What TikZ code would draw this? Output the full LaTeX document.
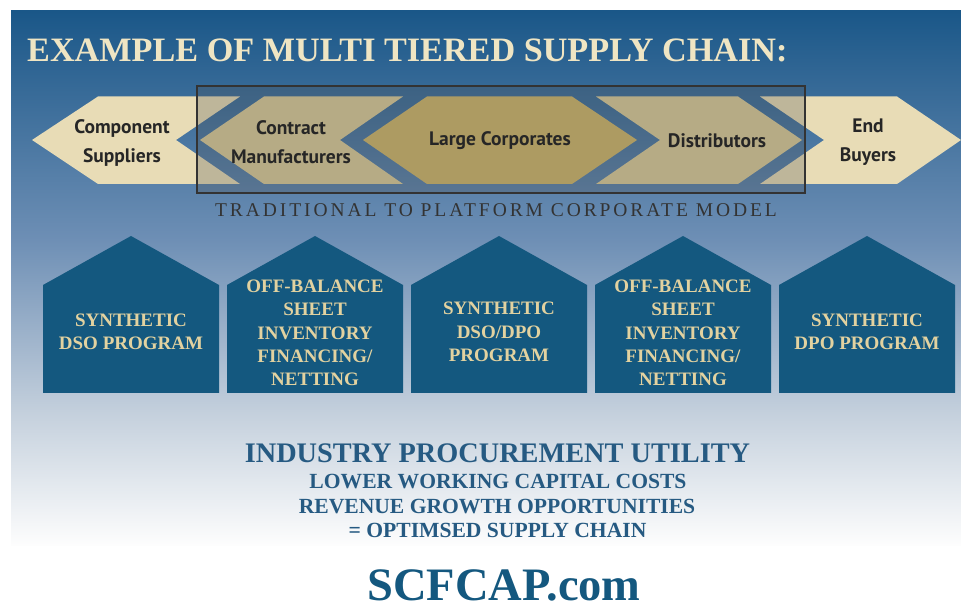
\documentclass[tikz,border=0pt]{standalone}
\usepackage{fontspec}
\setmainfont{Liberation Serif}
\newfontfamily\chevfont{PT Sans}
\newfontfamily\spacedserif[LetterSpace=15]{Liberation Serif}

\definecolor{bgtop}{HTML}{1A5788}
\definecolor{bgmid}{HTML}{6E8FB5}
\definecolor{bglow}{HTML}{C3CFDC}
\definecolor{bgend}{HTML}{FDFDFD}
\definecolor{cream}{HTML}{E8DCB6}
\definecolor{tan}{HTML}{DCCE9A}
\definecolor{gold}{HTML}{D0B76A}
\definecolor{titlecream}{HTML}{EFE5C3}
\definecolor{housefill}{HTML}{14587F}
\definecolor{housetext}{HTML}{E2D2A0}
\definecolor{navytext}{HTML}{265A82}
\definecolor{chevtext}{HTML}{262626}
\definecolor{boxgray}{HTML}{505050}

\begin{document}
\begin{tikzpicture}[x=1pt,y=-1pt,
  chevlabel/.style={font=\chevfont\bfseries\fontsize{19.5}{29}\selectfont,
    text=chevtext, align=center, inner sep=0pt},
  house/.style={fill=housefill, draw=none},
  houselabel/.style={font=\bfseries\fontsize{19}{23.3}\selectfont,
    text=housetext, align=center, inner sep=0pt},
  bottomline/.style={font=\bfseries\fontsize{21.6}{24}\selectfont,
    text=navytext, inner sep=0pt, anchor=base}]

  % page and background panel
  \useasboundingbox (0,0) rectangle (961,609);
  \fill[white] (0,0) rectangle (961,609);
  \shade[top color=bgtop, bottom color=bgmid] (11,11) rectangle (961,240.5);
  \shade[top color=bgmid, bottom color=bglow] (11,240) rectangle (961,410.5);
  \shade[top color=bglow, bottom color=bgend] (11,410) rectangle (961,545);

  % heading
  \node[anchor=base west, inner sep=0pt, text=titlecream,
        font=\bfseries\fontsize{34.2}{40}\selectfont] (title) at (27,62)
        {EXAMPLE OF MULTI TIERED SUPPLY CHAIN:};

  % supply chain tiers
  \fill[cream] (32,140) -- (98,96.5) -- (240,96.5) -- (176,140) -- (240,184) -- (98,184) -- cycle;
  \fill[tan]   (200,140) -- (264,96.5) -- (403,96.5) -- (340,140) -- (403,184) -- (264,184) -- cycle;
  \fill[gold]  (363,140) -- (427,96.5) -- (572,96.5) -- (637,140) -- (572,184) -- (427,184) -- cycle;
  \fill[tan]   (596,96.5) -- (738,96.5) -- (802,140) -- (738,184) -- (596,184) -- (660,140) -- cycle;
  \fill[cream] (760,96.5) -- (897,96.5) -- (961,140) -- (897,184) -- (760,184) -- (824,140) -- cycle;

  % platform frame over the middle tiers
  \draw[draw=black!80, line width=1.4pt, fill=boxgray, fill opacity=0.27]
    (197,86) rectangle (805,193);

  \node[chevlabel] (supp) at (122,142.5) {Component\\Suppliers};
  \node[chevlabel] (manu) at (291,142.5) {Contract\\Manufacturers};
  \node[chevlabel] (corp) at (500,141) {Large Corporates};
  \node[chevlabel] (dist) at (717,141) {Distributors};
  \node[chevlabel] (buy)  at (868,142.5) {End\\Buyers};

  \node[anchor=base, inner sep=0pt, text=black!80,
        font=\spacedserif\fontsize{19.5}{22}\selectfont] (model) at (496,217)
        {TRADITIONAL TO PLATFORM CORPORATE MODEL};

  % financing programmes
  \foreach \l in {43,227,411,595,779}{
    \fill[house] (\l,393) -- (\l,285) -- (\l+88,236) -- (\l+176,285) -- (\l+176,393) -- cycle;
  }
  \node[houselabel] (p1) at (131,332) {SYNTHETIC\\DSO PROGRAM};
  \node[houselabel] (p2) at (315,333) {OFF-BALANCE\\SHEET\\INVENTORY\\FINANCING/\\NETTING};
  \node[houselabel] (p3) at (499,332) {SYNTHETIC\\DSO/DPO\\PROGRAM};
  \node[houselabel] (p4) at (683,333) {OFF-BALANCE\\SHEET\\INVENTORY\\FINANCING/\\NETTING};
  \node[houselabel] (p5) at (867,332) {SYNTHETIC\\DPO PROGRAM};

  % summary
  \node[bottomline, font=\bfseries\fontsize{28.3}{30}\selectfont] (util) at (497.5,462)
        {INDUSTRY PROCUREMENT UTILITY};
  \node[bottomline] (cost) at (498,488) {LOWER WORKING CAPITAL COSTS};
  \node[bottomline] (rev)  at (497,513) {REVENUE GROWTH OPPORTUNITIES};
  \node[bottomline] (opt)  at (497.5,537) {= OPTIMSED SUPPLY CHAIN};

  \node[bottomline, text=housefill, font=\bfseries\fontsize{46.5}{50}\selectfont] (site) at (504,600)
        {SCFCAP.com};
\end{tikzpicture}
\end{document}
